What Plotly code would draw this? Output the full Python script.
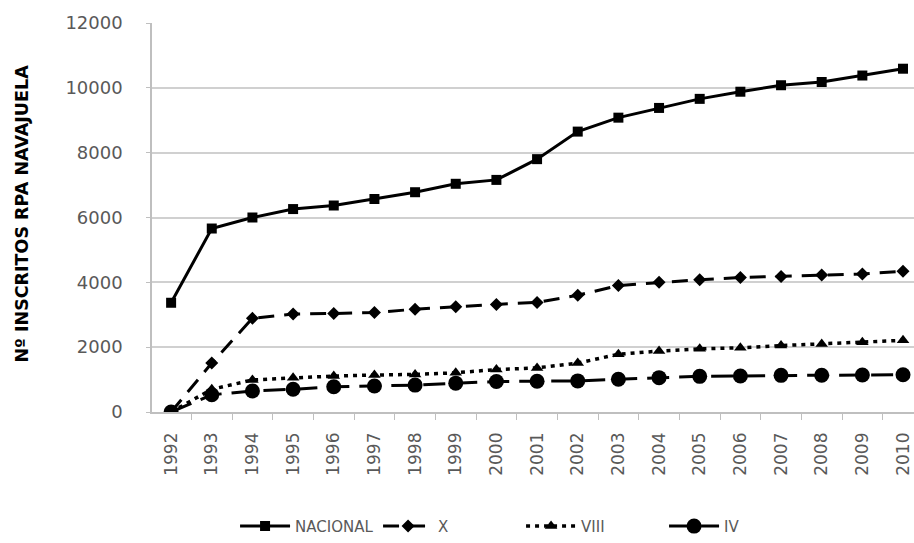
import plotly.graph_objects as go

# Registered RPA navajuela (razor clam) collectors by year
years = ["1992", "1993", "1994", "1995", "1996", "1997", "1998", "1999", "2000",
         "2001", "2002", "2003", "2004", "2005", "2006", "2007", "2008", "2009", "2010"]

nacional = [3370, 5660, 6000, 6260, 6370, 6570, 6780, 7040, 7160,
            7800, 8650, 9080, 9380, 9660, 9880, 10080, 10180, 10380, 10590]
region_x = [0, 1510, 2890, 3020, 3040, 3070, 3170, 3250, 3320,
            3380, 3600, 3900, 4000, 4080, 4150, 4180, 4230, 4260, 4340]
region_viii = [0, 700, 990, 1060, 1110, 1140, 1160, 1210, 1310,
               1360, 1510, 1780, 1880, 1950, 1980, 2050, 2100, 2150, 2210]
region_iv = [0, 530, 650, 700, 780, 800, 830, 890, 940,
             950, 960, 1010, 1060, 1100, 1110, 1130, 1135, 1140, 1150]

y_ticks = [0, 2000, 4000, 6000, 8000, 10000, 12000]
y_labels = ["0", "2000", "4000", "6000", "8000", "10000", "12000"]

FONT = "DejaVu Sans"
GREY = "#595959"

fig = go.Figure()

fig.add_trace(go.Scatter(
    x=years, y=nacional, name="NACIONAL", mode="lines+markers",
    line=dict(color="black", width=3),
    marker=dict(symbol="square", size=10, color="black"),
))
fig.add_trace(go.Scatter(
    x=years, y=region_x, name="X", mode="lines+markers",
    line=dict(color="black", width=3, dash="16px,10px"),
    marker=dict(symbol="diamond", size=10, color="black"),
))
fig.add_trace(go.Scatter(
    x=years, y=region_viii, name="VIII", mode="lines+markers",
    line=dict(color="black", width=3.5, dash="4px,5px"),
    marker=dict(symbol="triangle-up", size=11, color="black"),
))
fig.add_trace(go.Scatter(
    x=years, y=region_iv, name="IV", mode="lines+markers",
    line=dict(color="black", width=3, dash="22px,10px"),
    marker=dict(symbol="circle", size=15, color="black"),
))

fig.update_layout(
    width=914, height=543,
    margin=dict(l=152, r=0, t=23, b=126),
    paper_bgcolor="white", plot_bgcolor="white",
    font=dict(family=FONT, color=GREY),
    showlegend=True,
    legend=dict(
        orientation="h", x=0.109, xanchor="left", y=-0.294, yanchor="middle",
        font=dict(size=15, color=GREY, family=FONT),
        itemwidth=50, entrywidth=78, entrywidthmode="pixels",
        bgcolor="rgba(0,0,0,0)",
    ),
    xaxis=dict(
        type="category", range=[-0.47, 18.27],
        showgrid=False, showline=True, linecolor="#bfbfbf", linewidth=1.5,
        ticks="outside", ticklen=6, tickcolor="#bfbfbf", tickson="boundaries",
        tickangle=-90, tickfont=dict(size=17, color=GREY, family=FONT),
        ticklabelstandoff=12,
    ),
    yaxis=dict(
        range=[0, 12000], tickvals=y_ticks, ticktext=y_labels,
        showgrid=True, gridcolor="#d0d0d0", gridwidth=1.5,
        showline=True, linecolor="#bfbfbf", linewidth=1.5,
        ticks="outside", ticklen=4, tickcolor="#bfbfbf",
        tickfont=dict(size=18, color=GREY, family=FONT),
        ticklabelstandoff=20, zeroline=False,
    ),
    annotations=[dict(
        text="<b>Nº INSCRITOS RPA NAVAJUELA</b>",
        xref="paper", yref="paper", x=-130 / 762, y=0.51,
        xanchor="center", yanchor="middle", textangle=-90, showarrow=False,
        font=dict(size=17.5, color="black", family=FONT),
    )],
)

fig.write_html("out.html")
